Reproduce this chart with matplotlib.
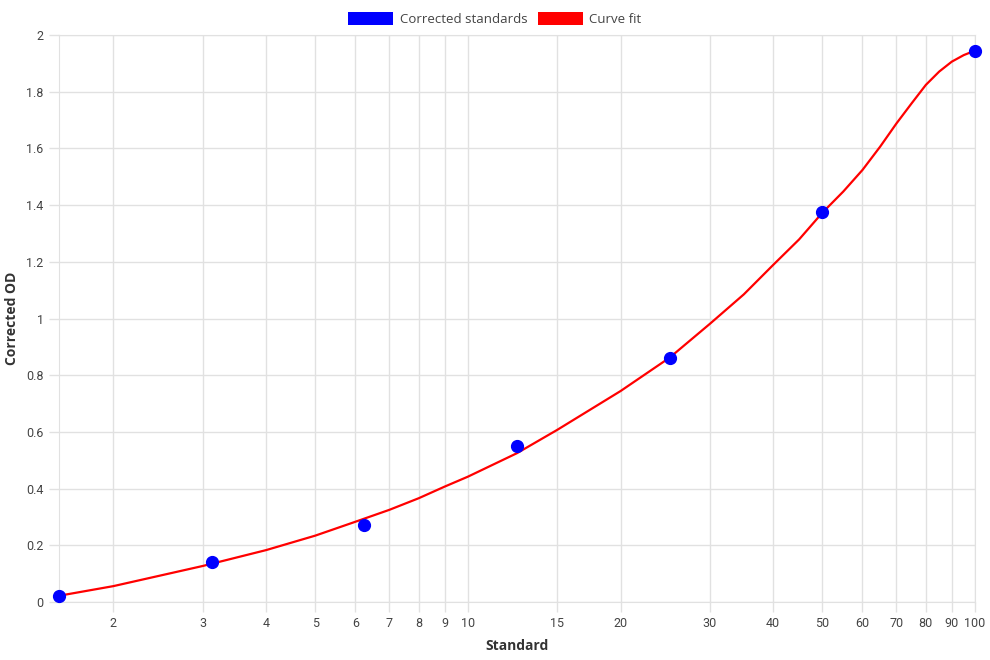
import matplotlib
matplotlib.use("Agg")
import matplotlib.pyplot as plt
from matplotlib.patches import Patch
from matplotlib.ticker import FixedLocator, FixedFormatter, NullLocator

# -------------------------------
# DATA
# -------------------------------
standards = [1.5625, 3.125, 6.25, 12.5, 25, 50, 100]
corrected_od = [0.02, 0.14, 0.27, 0.55, 0.86, 1.375, 1.945]

fit_x = [1.5625, 2, 3, 4, 5, 6, 7, 8, 9, 10, 12.5, 15, 20, 25, 30, 35, 40,
         45, 50, 55, 60, 65, 70, 75, 80, 85, 90, 95, 100]
fit_y = [0.022, 0.056, 0.127, 0.183, 0.234, 0.283, 0.325, 0.366, 0.407, 0.442,
         0.525, 0.607, 0.744, 0.862, 0.981, 1.085, 1.189, 1.279, 1.373, 1.448,
         1.524, 1.606, 1.688, 1.759, 1.824, 1.871, 1.906, 1.929, 1.945]

x_ticks = [2, 3, 4, 5, 6, 7, 8, 9, 10, 15, 20, 30, 40, 50, 60, 70, 80, 90, 100]
y_ticks = [0, 0.2, 0.4, 0.6, 0.8, 1, 1.2, 1.4, 1.6, 1.8, 2]

# -------------------------------
# FIGURE
# -------------------------------
grid_c = "#e1e1e1"
text_c = "#444444"

fig = plt.figure(figsize=(9.9, 6.6), dpi=100)
ax = fig.add_axes([59 / 990, 1 - 602 / 660, (975 - 59) / 990, (602 - 35) / 660])

ax.plot(fit_x, fit_y, color="red", lw=1.6, zorder=2, solid_joinstyle="round")
ax.plot(standards, corrected_od, "o", color="blue", ms=8.5, zorder=3, clip_on=False)

ax.set_xscale("log")
ax.set_xlim(1.5625, 100)
ax.set_ylim(0, 2)

ax.xaxis.set_major_locator(FixedLocator(x_ticks))
ax.xaxis.set_major_formatter(FixedFormatter([str(t) for t in x_ticks]))
ax.xaxis.set_minor_locator(NullLocator())
ax.set_yticks(y_ticks)
ax.set_yticklabels(["%g" % t for t in y_ticks])

ax.grid(True, color=grid_c, lw=1)
ax.set_axisbelow(True)
for s in ax.spines.values():
    s.set_color(grid_c)
ax.tick_params(axis="both", color=grid_c, length=7, width=1, labelsize=9,
               labelcolor=text_c, pad=4)
for lbl in ax.get_xticklabels() + ax.get_yticklabels():
    lbl.set_family("Roboto")

ax.set_xlabel("Standard", fontsize=10, fontweight="bold", color="#333333",
              family="Open Sans", labelpad=6)
ax.set_ylabel("Corrected OD", fontsize=10, fontweight="bold", color="#333333",
              family="Open Sans", labelpad=5)

handles = [Patch(facecolor="blue", label="Corrected standards"),
           Patch(facecolor="red", label="Curve fit")]
fig.legend(handles=handles, loc="upper center", bbox_to_anchor=(0.5, 1.0),
           ncol=2, frameon=False, handlelength=3.4, handleheight=1.2,
           handletextpad=0.5, columnspacing=0.8,
           prop={"family": "Open Sans", "size": 9.5}, labelcolor=text_c)

fig.savefig("out.png", dpi=100)
